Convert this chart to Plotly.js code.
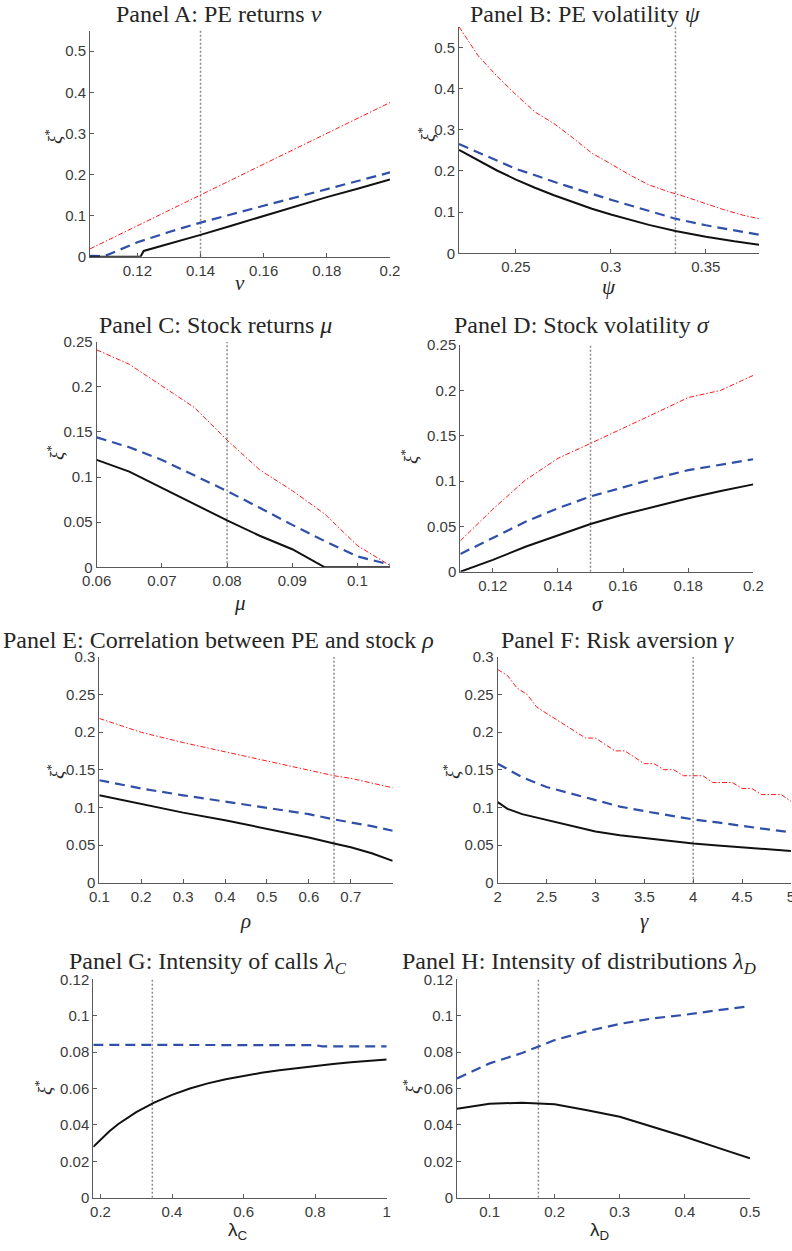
<!DOCTYPE html>
<html><head><meta charset="utf-8">
<script src="https://cdn.plot.ly/plotly-3.0.1.min.js"></script>
<style>body{margin:0;background:#fff}#chart{width:792px;height:1251px}</style>
</head><body><div id="chart"></div>
<script>
// ---------- Panel A: PE returns nu ----------
const aRedX = [0.105,0.12,0.14,0.16,0.18,0.2];
const aRed = [0.019,0.075,0.150,0.225,0.300,0.375];
const aBlueX = [0.105,0.1095,0.12,0.13,0.14,0.15,0.16,0.17,0.18,0.19,0.2];
const aBlue = [0.002,0.001,0.035,0.060,0.083,0.104,0.124,0.144,0.164,0.185,0.205];
const aBlackX = [0.105,0.121,0.122,0.13,0.14,0.15,0.16,0.17,0.18,0.19,0.2];
const aBlack = [0,0,0.014,0.031,0.053,0.076,0.099,0.122,0.145,0.166,0.188];
const aBase = 0.14;
const aXTicks = [0.12,0.14,0.16,0.18,0.2];
const aYTicks = [0,0.1,0.2,0.3,0.4,0.5];

// ---------- Panel B: PE volatility psi ----------
const bRedX = [0.22,0.23,0.24,0.25,0.26,0.27,0.28,0.29,0.30,0.31,0.32,0.33,0.34,0.35,0.36,0.37,0.378];
const bRed = [0.55,0.48,0.43,0.385,0.343,0.315,0.28,0.243,0.217,0.19,0.166,0.15,0.136,0.12,0.105,0.092,0.084];
const bBlueX = [0.22,0.25,0.275,0.3,0.334,0.35,0.378];
const bBlue = [0.265,0.205,0.166,0.130,0.084,0.068,0.045];
const bBlackX = [0.22,0.23,0.24,0.25,0.26,0.27,0.28,0.29,0.3,0.31,0.32,0.334,0.35,0.365,0.378];
const bBlack = [0.251,0.225,0.201,0.179,0.159,0.141,0.124,0.108,0.094,0.081,0.069,0.054,0.040,0.029,0.021];
const bBase = 0.334;
const bXTicks = [0.25,0.3,0.35];
const bYTicks = [0,0.1,0.2,0.3,0.4,0.5];

// ---------- Panel C: Stock returns mu ----------
const cX = [0.06,0.065,0.07,0.075,0.08,0.085,0.09,0.095,0.1,0.105];
const cRed = [0.241,0.225,0.201,0.177,0.141,0.108,0.085,0.059,0.024,0.002];
const cBlue = [0.144,0.133,0.119,0.102,0.0845,0.066,0.047,0.029,0.012,0.003];
const cBlack = [0.119,0.106,0.088,0.070,0.052,0.035,0.020,0,0,0];
const cBase = 0.08;
const cXTicks = [0.06,0.07,0.08,0.09,0.1];
const cYTicks = [0,0.05,0.1,0.15,0.2,0.25];

// ---------- Panel D: Stock volatility sigma ----------
const dX = [0.11,0.12,0.13,0.14,0.15,0.16,0.17,0.18,0.19,0.2];
const dRed = [0.034,0.069,0.101,0.125,0.1415,0.158,0.175,0.192,0.200,0.2165];
const dBlue = [0.0195,0.037,0.055,0.070,0.083,0.093,0.103,0.112,0.118,0.124];
const dBlack = [0,0.013,0.0275,0.040,0.0526,0.063,0.0724,0.081,0.089,0.0963];
const dBase = 0.15;
const dXTicks = [0.12,0.14,0.16,0.18,0.2];
const dYTicks = [0,0.05,0.1,0.15,0.2,0.25];

// ---------- Panel E: Correlation rho ----------
const eX = [0.1,0.2,0.3,0.4,0.5,0.6,0.66,0.7,0.75,0.8];
const eRed = [0.218,0.1996,0.186,0.174,0.162,0.1496,0.142,0.1385,0.132,0.126];
const eBlue = [0.136,0.125,0.116,0.108,0.100,0.091,0.084,0.080,0.075,0.069];
const eBlack = [0.116,0.104,0.093,0.083,0.072,0.060,0.052,0.047,0.039,0.029];
const eBase = 0.66;
const eXTicks = [0.1,0.2,0.3,0.4,0.5,0.6,0.7];
const eYTicks = [0,0.05,0.1,0.15,0.2,0.25,0.3];

// ---------- Panel F: Risk aversion gamma ----------
const fRedX = [2,2.1,2.2,2.3,2.4,2.5,2.6,2.7,2.8,2.9,3,3.1,3.2,3.3,3.4,3.5,3.6,3.7,3.8,3.9,4,4.1,4.2,4.3,4.4,4.5,4.6,4.7,4.8,4.9,5];
const fRed = [0.283,0.275,0.258,0.250,0.233,0.225,0.217,0.208,0.200,0.192,0.192,0.183,0.175,0.175,0.167,0.158,0.158,0.150,0.150,0.142,0.142,0.142,0.133,0.133,0.133,0.125,0.125,0.117,0.117,0.117,0.108];
const fX = [2,2.1,2.25,2.5,2.75,3,3.25,3.5,3.75,4,4.25,4.5,4.75,5];
const fBlue = [0.158,0.151,0.140,0.127,0.118,0.109,0.101,0.095,0.090,0.084,0.080,0.075,0.071,0.067];
const fBlack = [0.107,0.098,0.091,0.083,0.075,0.068,0.063,0.059,0.055,0.052,0.0495,0.047,0.0445,0.042];
const fBase = 4;
const fXTicks = [2,2.5,3,3.5,4,4.5,5];
const fYTicks = [0,0.05,0.1,0.15,0.2,0.25,0.3];

// ---------- Panel G: Intensity of calls ----------
const gX = [0.18,0.2,0.225,0.25,0.275,0.3,0.35,0.4,0.45,0.5,0.55,0.6,0.65,0.7,0.75,0.8,0.85,0.9,0.95,1.0];
const gBlack = [0.028,0.032,0.0365,0.0405,0.044,0.047,0.0522,0.0565,0.0600,0.0628,0.0651,0.0670,0.0686,0.0700,0.0713,0.0724,0.0735,0.0744,0.0752,0.0760];
const gBlueX = [0.18,0.78,0.8,0.82,1.0];
const gBlue = [0.084,0.084,0.0838,0.0832,0.0832];
const gBase = 0.345;
const gXTicks = [0.2,0.4,0.6,0.8,1];
const gYTicks = [0,0.02,0.04,0.06,0.08,0.1,0.12];

// ---------- Panel H: Intensity of distributions ----------
const hX = [0.05,0.1,0.15,0.2,0.25,0.3,0.35,0.4,0.45,0.5];
const hBlue = [0.0655,0.0738,0.0795,0.0866,0.0915,0.0955,0.0985,0.1005,0.103,0.1052];
const hBlack = [0.0488,0.0516,0.0522,0.0513,0.048,0.0445,0.039,0.0335,0.0275,0.0216];
const hBase = 0.175;
const hXTicks = [0.1,0.2,0.3,0.4,0.5];
const hYTicks = [0,0.02,0.04,0.06,0.08,0.1,0.12];

// ---------- layout helpers ----------
const W = 792, H = 1251;
const SERIF = '"Liberation Serif", "DejaVu Serif", serif';
const SANS = '"Liberation Sans", Arial, sans-serif';
const RED = {color:'#ff1a1a', width:1, dash:'5px,2px,1.5px,2px'};
const BLUE = {color:'#2f4fa8', width:2.2, dash:'10px,6px'};
const BLACK = {color:'#111111', width:2};
const DOT = {color:'#8a8a8a', width:1.5, dash:'2px,2px'};

const panels = [
  {box:[90,390,30.6,256.7], xr:[0.105,0.2], yr:[0,0.55], xt:aXTicks, yt:aYTicks,
   red:[aRedX,aRed], blue:[aBlueX,aBlue], black:[aBlackX,aBlack], base:aBase,
   title:'Panel A: PE returns <i>ν</i>', tpos:[219,14], xl:'<i>ν</i>', xlpos:[240,283], xlSans:false, ylpos:[53,137]},
  {box:[459,759,26.7,253.3], xr:[0.22,0.378], yr:[0,0.55], xt:bXTicks, yt:bYTicks,
   red:[bRedX,bRed], blue:[bBlueX,bBlue], black:[bBlackX,bBlack], base:bBase,
   title:'Panel B: PE volatility <i>ψ</i>', tpos:[585,14], xl:'<i>ψ</i>', xlpos:[609,287], xlSans:false, ylpos:[426,135]},
  {box:[96.7,390,341.7,567.3], xr:[0.06,0.105], yr:[0,0.25], xt:cXTicks, yt:cYTicks,
   red:[cX,cRed], blue:[cX,cBlue], black:[cX,cBlack], base:cBase,
   title:'Panel C: Stock returns <i>μ</i>', tpos:[215,325], xl:'<i>μ</i>', xlpos:[240,603], xlSans:false, ylpos:[55,453]},
  {box:[460.3,753.3,345,571.7], xr:[0.11,0.2], yr:[0,0.25], xt:dXTicks, yt:dYTicks,
   red:[dX,dRed], blue:[dX,dBlue], black:[dX,dBlack], base:dBase,
   title:'Panel D: Stock volatility <i>σ</i>', tpos:[582,325], xl:'<i>σ</i>', xlpos:[598,604], xlSans:false, ylpos:[409,457]},
  {box:[99.3,392.7,656.7,882.7], xr:[0.1,0.8], yr:[0,0.3], xt:eXTicks, yt:eYTicks,
   red:[eX,eRed], blue:[eX,eBlue], black:[eX,eBlack], base:eBase,
   title:'Panel E: Correlation between PE and stock <i>ρ</i>', tpos:[218,640], xl:'<i>ρ</i>', xlpos:[245,921], xlSans:false, ylpos:[55,772]},
  {box:[497.7,791,656.7,882.7], xr:[2,5.001], yr:[0,0.3], xt:fXTicks, yt:fYTicks,
   red:[fRedX,fRed], blue:[fX,fBlue], black:[fX,fBlack], base:fBase,
   title:'Panel F: Risk aversion <i>γ</i>', tpos:[617,640], xl:'<i>γ</i>', xlpos:[644,921], xlSans:false, ylpos:[451,772]},
  {box:[93.3,386.7,979.3,1197.7], xr:[0.18,1.0], yr:[0,0.12], xt:gXTicks, yt:gYTicks,
   red:null, blue:[gBlueX,gBlue], black:[gX,gBlack], base:gBase,
   title:'Panel G: Intensity of calls <i>λ<sub>C</sub></i>', tpos:[208,963], xl:'λ<sub>C</sub>', xlpos:[238,1231], xlSans:true, ylpos:[43,1088]},
  {box:[457,750,979.3,1197.7], xr:[0.05,0.5], yr:[0,0.12], xt:hXTicks, yt:hYTicks,
   red:null, blue:[hX,hBlue], black:[hX,hBlack], base:hBase,
   title:'Panel H: Intensity of distributions <i>λ<sub>D</sub></i>', tpos:[579,963], xl:'λ<sub>D</sub>', xlpos:[599,1231], xlSans:true, ylpos:[411,1087]}
];

const traces = [];
const layout = {
  width: W, height: H, margin:{l:0,r:0,t:0,b:0},
  paper_bgcolor:'#ffffff', plot_bgcolor:'#ffffff',
  showlegend:false, annotations:[]
};

panels.forEach((p, i) => {
  const n = i + 1;
  const xa = n === 1 ? 'x' : 'x' + n;
  const ya = n === 1 ? 'y' : 'y' + n;
  const [l, r, t, b] = p.box;
  const axCommon = {
    showgrid:false, zeroline:false, showline:true, linecolor:'#5a5a5a', linewidth:1,
    ticks:'inside', ticklen:4, tickwidth:1, tickcolor:'#5a5a5a',
    tickfont:{family:SANS, size:15, color:'#3a3a3a'}, fixedrange:true,
    ticklabeloverflow:'allow'
  };
  layout['xaxis' + (n === 1 ? '' : n)] = Object.assign({}, axCommon, {
    domain:[l / W, r / W], range:p.xr, anchor:ya,
    tickmode:'array', tickvals:p.xt, ticktext:p.xt.map(String)
  });
  layout['yaxis' + (n === 1 ? '' : n)] = Object.assign({}, axCommon, {
    domain:[1 - b / H, 1 - t / H], range:p.yr, anchor:xa,
    tickmode:'array', tickvals:p.yt, ticktext:p.yt.map(String)
  });
  traces.push({x:[p.base, p.base], y:p.yr, xaxis:xa, yaxis:ya, mode:'lines', line:DOT, hoverinfo:'skip'});
  if (p.red) traces.push({x:p.red[0], y:p.red[1], xaxis:xa, yaxis:ya, mode:'lines', line:RED});
  traces.push({x:p.blue[0], y:p.blue[1], xaxis:xa, yaxis:ya, mode:'lines', line:BLUE});
  traces.push({x:p.black[0], y:p.black[1], xaxis:xa, yaxis:ya, mode:'lines', line:BLACK});

  layout.annotations.push({
    text:p.title, xref:'paper', yref:'paper', x:p.tpos[0] / W, y:1 - p.tpos[1] / H,
    xanchor:'center', yanchor:'middle', showarrow:false,
    font:{family:SERIF, size:24, color:'#262626'}
  });
  layout.annotations.push({
    text:p.xl, xref:'paper', yref:'paper', x:p.xlpos[0] / W, y:1 - p.xlpos[1] / H,
    xanchor:'center', yanchor:'middle', showarrow:false,
    font:p.xlSans ? {family:SANS, size:19, color:'#262626'} : {family:SERIF, size:21, color:'#262626'}
  });
  layout.annotations.push({
    text:'<i>ξ</i><sup>*</sup>', xref:'paper', yref:'paper', x:p.ylpos[0] / W, y:1 - p.ylpos[1] / H,
    xanchor:'center', yanchor:'middle', showarrow:false, textangle:-90,
    font:{family:SERIF, size:19, color:'#262626'}
  });
});

Plotly.newPlot('chart', traces, layout, {staticPlot:true, displayModeBar:false});
</script>
</body></html>
